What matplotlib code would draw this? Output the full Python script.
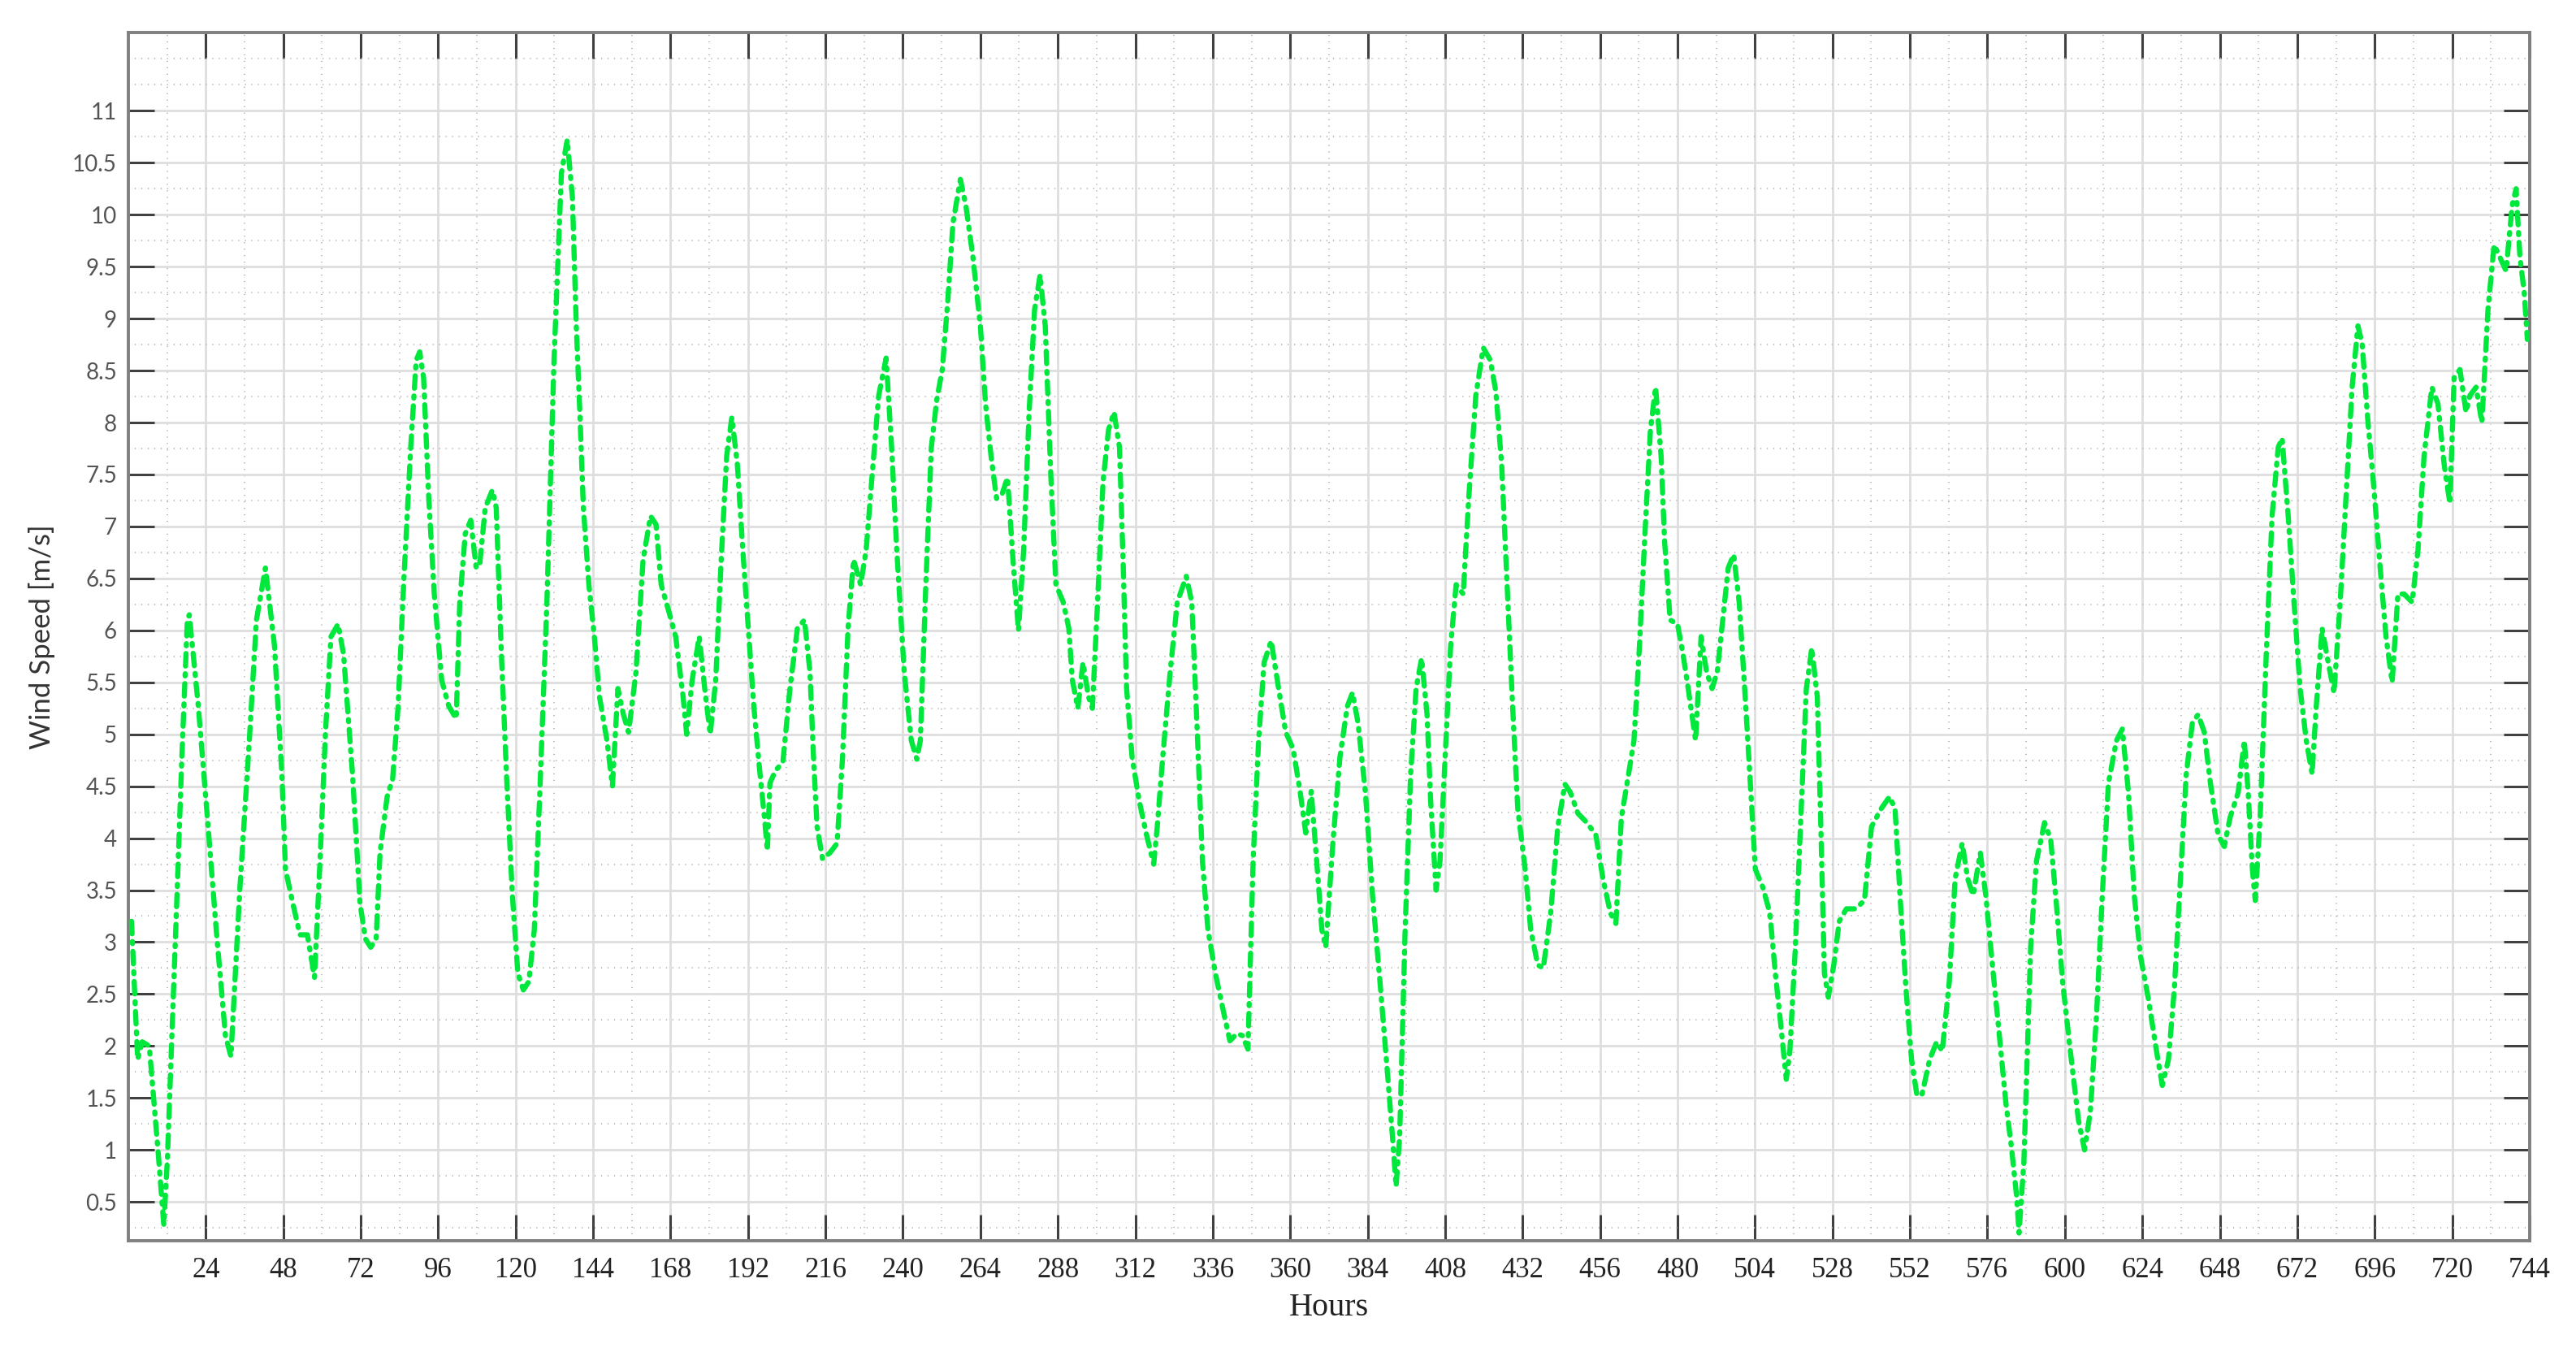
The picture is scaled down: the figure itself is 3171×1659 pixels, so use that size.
import matplotlib
matplotlib.use("Agg")
import matplotlib.pyplot as plt
from matplotlib.ticker import MultipleLocator

# hourly wind speed (hour, m/s)
hours = [
    1, 2, 2.9, 4.3, 6.5, 9.3, 11, 12.1, 15, 16.6, 18.3, 18.9, 21.7, 24.5, 27.3, 30.1, 31.8,
    34.6, 37.5, 39.7, 42.5, 45.3, 47.6, 48.7, 51, 53.2, 55.5, 57.7, 59.4, 61.1, 62.8, 65,
    66.7, 69.5, 71.8, 73.5, 75.1, 76.8, 78, 80.2, 81.9, 83.6, 85.3, 87.5, 89.2, 90.3, 91.5,
    93.1, 94.8, 97.1, 99.3, 101.6, 102.7, 104.4, 106.1, 107.8, 108.9, 110.6, 112.8, 114,
    115.6, 117.3, 119, 120.7, 122.4, 124.1, 125.8, 127.5, 129.7, 131.9, 134.2, 136,
    137.6, 138.8, 139.9, 141, 142.7, 144.4, 146, 148.3, 150, 151.7, 153.4, 155, 157.3,
    159.5, 161.8, 163.5, 165.1, 167.4, 169.6, 171.9, 173, 174.7, 176.9, 178.6, 180.3, 182,
    183.7, 185.4, 187, 188.7, 190.4, 192.1, 193.8, 195.5, 197.1, 198, 198.8, 200.5, 202.8,
    205, 207.3, 209.5, 211.2, 212.3, 213.4, 215.1, 217.4, 219.6, 221.3, 223, 224.7, 226.9,
    228.6, 230.3, 232.5, 234.8, 236.5, 238.1, 240.4, 242.6, 244.3, 245.4, 247.1, 248.8,
    250.5, 252.2, 253.9, 255.5, 257.8, 259.5, 261.7, 264, 265.6, 267.3, 269, 270.7, 272.4,
    274.1, 275.8, 277.4, 279.1, 280.8, 282.5, 284.1, 285.8, 287.4, 289.7, 291.4, 292.5,
    294.2, 295.8, 297.5, 298.7, 300.3, 302, 303.7, 305.4, 307.1, 308.2, 309.3, 311, 313.2,
    315.5, 317.7, 318.8, 320.5, 322.8, 325, 327.8, 329.5, 331.2, 332.8, 334.5, 336.8, 339.6,
    341.3, 343.5, 345.2, 346.9, 348.5, 350.2, 351.9, 354.1, 356.4, 358.6, 360.9, 363.1,
    364.8, 366.5, 368.2, 369.8, 371, 373.2, 375.4, 377.7, 379.3, 381, 383.3, 385.5, 387.8,
    390, 391.7, 392.8, 393.9, 395.6, 397.3, 399, 400.7, 402.4, 403.5, 405.2, 406.4, 408,
    409.7, 411.4, 413.6, 415.3, 417.5, 419.8, 422, 423.7, 425.5, 427.2, 428.9, 430.5, 432.8,
    434.5, 436.7, 438.4, 440.7, 442.9, 445.1, 446.8, 449.1, 451.9, 454.7, 456.9, 459.2,
    460.9, 462.6, 464.8, 466.5, 468.2, 469.9, 471.6, 473.2, 474.9, 476, 477.7, 480, 481.7,
    483.3, 485.6, 487.3, 489, 490.7, 492.3, 494, 495.7, 497.4, 499.1, 500.8, 502.4, 504.1,
    506.4, 508.6, 510.3, 512, 513.7, 514.8, 516.5, 518.2, 519.9, 521.6, 523.3, 524.4, 525.5,
    526.7, 528.4, 530.1, 532.3, 535.1, 537.9, 540.1, 543, 545.7, 547.4, 549.1, 550.8, 552.5,
    554.2, 555.8, 558.1, 560.3, 562, 564.2, 566, 568.2, 569.9, 571.6, 573.8, 575.5, 577.8,
    579.4, 581.7, 583.4, 585.1, 585.8, 587.3, 589.4, 591.2, 593.7, 595.6, 597.4, 599.3,
    601.7, 604.2, 606.1, 607.9, 609.8, 611.6, 613.5, 616, 617.8, 619.7, 621.5, 623.4, 625.9,
    628.4, 630.2, 632.1, 633.9, 635.8, 637.6, 639.5, 641.3, 643.2, 645.1, 647.5, 649.4,
    651.2, 653.7, 655.6, 656.8, 658.1, 659, 660.5, 662.4, 664.2, 666.1, 667.3, 669.2, 671,
    672.9, 674.8, 676.6, 677.9, 679.7, 681.6, 683.4, 685.3, 687.1, 689, 690.8, 692.1, 693.9,
    695.8, 697.7, 699.5, 701.4, 703.2, 705.1, 707.6, 709.4, 711.3, 713.7, 715.6, 717.5,
    719.3, 720.6, 722.4, 724.3, 725.5, 727.4, 729.2, 731.1, 733, 734.8, 736.7, 738.6, 739.8,
    741, 742.3, 743.3,
]
wind_speed = [
    3.2, 2.5, 1.87, 2.04, 2.0, 0.96, 0.28, 0.9, 3.37, 4.78, 6.1, 6.15, 5.27, 4.2, 3.1, 2.1, 1.9,
    3.53, 4.94, 6.1, 6.6, 5.85, 4.6, 3.7, 3.37, 3.07, 3.07, 2.66, 3.78, 5.02, 5.94, 6.06,
    5.77, 4.6, 3.37, 3.03, 2.95, 3.03, 3.86, 4.4, 4.57, 5.27, 6.44, 7.76, 8.6, 8.68, 8.43,
    7.27, 6.35, 5.52, 5.27, 5.15, 6.27, 6.93, 7.06, 6.6, 6.64, 7.18, 7.35, 7.18,
    5.77, 4.53, 3.45, 2.7, 2.54, 2.62, 3.12, 4.44, 6.27, 8.6, 10.4, 10.72,
    10.17, 8.93, 8.1, 7.18, 6.44, 5.94, 5.36, 4.94, 4.5, 5.44, 5.19, 5.02, 5.6,
    6.68, 7.1, 7.02, 6.44, 6.19, 5.94, 5.36, 5.0, 5.52, 5.94, 5.44, 5.0, 5.52,
    6.68, 7.68, 8.05, 7.6, 6.77, 6.02, 5.27, 4.69, 4.2, 3.88, 4.53, 4.65, 4.73,
    5.44, 6.02, 6.1, 5.6, 4.78, 4.11, 3.8, 3.86, 3.95, 4.78, 6.02, 6.68, 6.44,
    6.77, 7.43, 8.26, 8.62, 7.76, 6.77, 5.6, 4.94, 4.76, 4.94, 6.44, 7.76,
    8.22, 8.51, 9.17, 9.92, 10.34, 10.09, 9.59, 8.93, 8.18, 7.68, 7.27, 7.31, 7.47,
    6.68, 6.0, 6.77, 8.1, 9.09, 9.42, 8.93, 7.51, 6.44, 6.27, 6.02, 5.52,
    5.25, 5.69, 5.36, 5.25, 6.27, 7.43, 7.93, 8.1, 7.76, 6.68, 5.44, 4.78, 4.36,
    4.03, 3.75, 4.11, 4.78, 5.6, 6.27, 6.52, 6.27, 5.02, 3.78, 3.12, 2.7, 2.29,
    2.05, 2.12, 2.1, 1.97, 3.78, 4.94, 5.69, 5.9, 5.44, 5.02, 4.86, 4.44,
    4.05, 4.45, 3.78, 3.12, 2.95, 3.95, 4.78, 5.27, 5.4, 5.11, 4.44, 3.45, 2.62,
    1.79, 1.12, 0.65, 1.12, 3.12, 4.61, 5.44, 5.73, 5.19, 4.36, 3.5, 3.78, 4.78,
    5.85, 6.44, 6.35, 7.27, 8.26, 8.72, 8.6, 8.3, 7.6, 6.44, 5.27, 4.28, 3.7,
    3.12, 2.78, 2.75, 3.28, 4.11, 4.52, 4.44, 4.24, 4.15, 4.03, 3.61, 3.28,
    3.18, 4.2, 4.61, 4.94, 5.85, 6.93, 7.93, 8.34, 7.68, 6.85, 6.1, 6.06, 5.77,
    5.44, 4.94, 5.94, 5.6, 5.44, 5.6, 6.1, 6.6, 6.73, 6.27, 5.44, 4.61, 3.7,
    3.53, 3.28, 2.7, 2.2, 1.68, 1.95, 2.95, 4.2, 5.44, 5.83, 5.36, 4.11, 2.7,
    2.47, 2.78, 3.2, 3.32, 3.32, 3.4, 4.11, 4.28, 4.4, 4.28, 3.36, 2.54, 1.87,
    1.52, 1.54, 1.87, 2.04, 1.95, 2.62, 3.61, 3.95, 3.61, 3.45, 3.86, 3.45, 2.7,
    2.2, 1.46, 1.04, 0.54, 0.2, 0.88, 2.95, 3.78, 4.15, 3.99, 3.36, 2.62,
    1.95, 1.29, 1.0, 1.37, 2.29, 3.45, 4.53, 4.94, 5.05, 4.44, 3.45, 2.87, 2.45,
    1.95, 1.62, 1.87, 2.54, 3.61, 4.61, 5.11, 5.19, 5.02, 4.53, 4.03, 3.92,
    4.2, 4.44, 4.94, 4.44, 3.7, 3.4, 4.2, 5.77, 7.1, 7.76, 7.85, 7.1, 6.27,
    5.44, 4.94, 4.62, 5.27, 6.02, 5.69, 5.4, 6.27, 7.27, 8.34, 8.93, 8.76, 8.01,
    7.35, 6.6, 5.94, 5.5, 6.35, 6.35, 6.27, 6.77, 7.68, 8.34, 8.18, 7.6,
    7.22, 8.43, 8.51, 8.1, 8.26, 8.34, 8.0, 9.09, 9.71, 9.59, 9.46, 10.09, 10.25,
    9.59, 9.26, 8.8,
]

hour_ticks = list(range(24, 745, 24))
speed_ticks = [v / 2 for v in range(1, 23)]

fig = plt.figure(figsize=(15.855, 8.295), dpi=200)
ax = fig.add_axes([0.0498, 0.0795, 0.9322, 0.8961])

ax.plot(hours, wind_speed, color="#00e83c", lw=2.3, solid_capstyle="round",
        dash_capstyle="round", linestyle=(0, (2.4, 1.5, 0.4, 1.5)), zorder=3)

ax.set_xlim(0, 744)
ax.set_ylim(0.125, 11.75)
ax.set_xticks(hour_ticks)
ax.set_yticks(speed_ticks)
ax.set_yticklabels([f"{v:g}" for v in speed_ticks])
ax.xaxis.set_minor_locator(MultipleLocator(12))
ax.yaxis.set_minor_locator(MultipleLocator(0.25))

ax.grid(which="major", color="#dedede", lw=1.0, zorder=0)
ax.grid(which="minor", color="#b8b8b8", lw=0.7, linestyle=(0, (0.6, 3.5)), zorder=0)
ax.set_axisbelow(True)

ax.tick_params(which="major", direction="in", length=11.5, width=1.1, color="#404040",
               top=True, right=True)
ax.tick_params(which="minor", length=0, top=True, right=True)
ax.tick_params(axis="x", pad=7, labelsize=12.5, labelcolor="#222222")
ax.tick_params(axis="y", pad=5, labelsize=10, labelcolor="#555555")
for lab in ax.get_xticklabels():
    lab.set_family("Liberation Serif")
for lab in ax.get_yticklabels():
    lab.set_family("Lato")

for s in ax.spines.values():
    s.set_color("#808080")
    s.set_linewidth(1.4)

ax.set_xlabel("Hours", family="Liberation Serif", fontsize=14.5, color="#222222")
ax.xaxis.set_label_coords(0.5, -0.043)
ax.set_ylabel("Wind Speed [m/s]", family="Lato", fontsize=12.5, color="#333333")
ax.yaxis.set_label_coords(-0.0305, 0.5)

fig.savefig("out.png", dpi=200)
